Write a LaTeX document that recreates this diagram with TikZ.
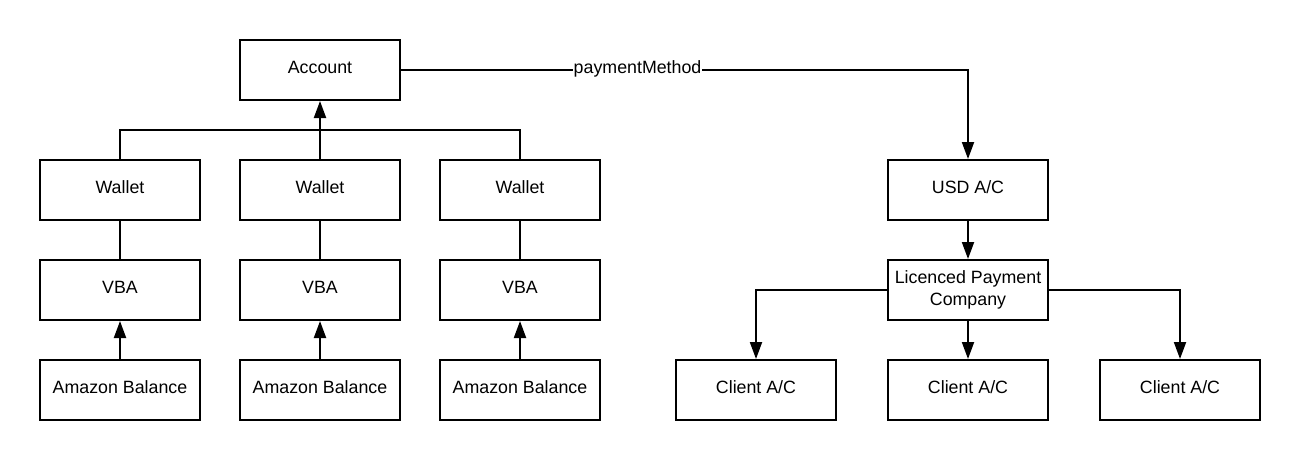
\documentclass[tikz,border=0pt]{standalone}
\usepackage{fontspec}
\setmainfont{Liberation Sans}
\usetikzlibrary{arrows.meta}
\begin{document}
\begin{tikzpicture}[x=1pt,y=-1pt,
  box/.style={draw=black,line width=2pt,minimum width=160pt,minimum height=60pt,inner sep=0pt,align=center,font=\fontsize{17.8}{21.5}\selectfont,text height=13pt,text depth=5.8pt},
  twoline/.style={text height=,text depth=},
  conn/.style={draw=black,line width=2pt},
  arr/.style={conn,-{Triangle[length=17pt,width=12pt]}},
  lbl/.style={fill=white,inner sep=1pt,font=\fontsize{17.8}{21.5}\selectfont}]
\useasboundingbox[fill=white] (0,0) rectangle (1300,460);
\node[box] (acc) at (320,70) {Account};
\node[box] (w1) at (120,190) {Wallet};
\node[box] (w2) at (320,190) {Wallet};
\node[box] (w3) at (520,190) {Wallet};
\node[box] (v1) at (120,290) {VBA};
\node[box] (v2) at (320,290) {VBA};
\node[box] (v3) at (520,290) {VBA};
\node[box] (a1) at (120,390) {Amazon Balance};
\node[box] (a2) at (320,390) {Amazon Balance};
\node[box] (a3) at (520,390) {Amazon Balance};
\node[box] (usd) at (968,190) {USD A/C};
\node[box,twoline] (lpc) at (968,290) {Licenced Payment\\Company};
\node[box] (c1) at (756,390) {Client A/C};
\node[box] (c2) at (968,390) {Client A/C};
\node[box] (c3) at (1180,390) {Client A/C};
\coordinate (bus) at (320,130);
\draw[conn] (w1.north) |- (bus) -| (w3.north);
\draw[arr] (w2.north) -- (acc.south);
\foreach \i in {1,2,3} {
  \draw[conn] (w\i.south) -- (v\i.north);
  \draw[arr] (a\i.north) -- (v\i.south);
}
\draw[arr] (acc.east) -| node[lbl,pos=0.2086,text height=13pt,text depth=5.8pt] (pm) {paymentMethod} (usd.north);
\draw[arr] (usd.south) -- (lpc.north);
\draw[arr] (lpc.west) -| (c1.north);
\draw[arr] (lpc.south) -- (c2.north);
\draw[arr] (lpc.east) -| (c3.north);
\end{tikzpicture}
\end{document}
